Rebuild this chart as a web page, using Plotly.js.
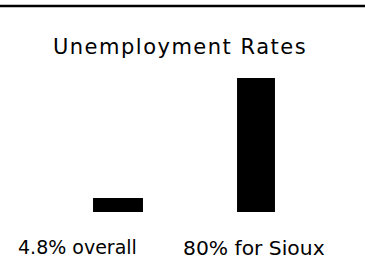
<!DOCTYPE html>
<html>
<head>
<meta charset="utf-8">
<script src="https://cdn.plot.ly/plotly-3.0.1.min.js"></script>
<style>
html,body{margin:0;padding:0;background:#fff;}
#chart{width:365px;height:275px;}
#chart .gtitle{letter-spacing:1.5px;}
</style>
</head>
<body>
<div id="chart"></div>
<script>
const categories = ["4.8% overall", "80% for Sioux"];
const values = [8.4, 80];
const titleText = "Unemployment Rates";

const W = 365, H = 275;
const m = {l: 49, r: 40, t: 78, b: 63};
const pw = W - m.l - m.r, ph = H - m.t - m.b;
const px2x = p => (p - m.l) / pw;
const py2y = p => 1 - (p - m.t) / ph;

const font = {family: "DejaVu Sans, sans-serif", size: 19, color: "#000"};

const trace = {
  type: "bar",
  x: [0, 1],
  y: values,
  width: [0.362, 0.275],
  marker: {color: "#000", line: {width: 0}},
  hoverinfo: "none"
};

const labelX = [-0.29, 0.982];
const labelSize = [19, 20.3];
const annotations = categories.map((c, i) => ({
  text: c, xref: "x", yref: "paper", x: labelX[i], y: 0,
  xanchor: "center", yanchor: "top", yshift: -22, showarrow: false,
  font: Object.assign({}, font, {size: labelSize[i]})
}));

const layout = {
  width: W, height: H,
  margin: m,
  paper_bgcolor: "#fff", plot_bgcolor: "#fff",
  showlegend: false,
  title: {text: titleText, font: Object.assign({}, font, {size: 21}), xref: "container", x: 180 / W, xanchor: "center",
          yref: "container", y: 1 - 47 / H, yanchor: "middle"},
  xaxis: {range: [-0.5, 1.5], showgrid: false, zeroline: false, showline: false,
          showticklabels: false, ticks: "", fixedrange: true},
  yaxis: {range: [0, 80], showgrid: false, zeroline: false, showline: false,
          showticklabels: false, ticks: "", fixedrange: true},
  annotations: annotations,
  shapes: [{type: "line", xref: "paper", yref: "paper",
            x0: px2x(0), x1: px2x(W), y0: py2y(6), y1: py2y(6),
            line: {color: "#000", width: 2.5}}]
};

Plotly.newPlot("chart", [trace], layout, {staticPlot: true, displayModeBar: false});
</script>
</body>
</html>
